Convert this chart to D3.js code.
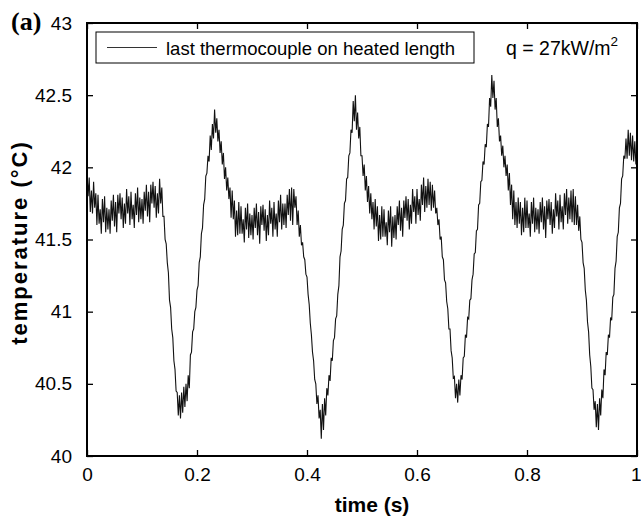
<!DOCTYPE html>
<html>
<head>
<meta charset="utf-8">
<script src="https://cdn.jsdelivr.net/npm/d3@7"></script>
<style>
    body { margin: 0; background: #fff; }
    svg { display: block; }
</style>
</head>
<body>
<svg id="chart"></svg>
<script>
'use strict'

// samples are taken every 2 ms (deg C)
const SAMPLE_PERIOD = 0.002

const temperature = [
    41.96, 41.80, 41.93, 41.69, 41.84, 41.68, 41.90, 41.72, 41.82, 41.60,
    41.81, 41.61, 41.71, 41.54, 41.78, 41.62, 41.80, 41.55, 41.72, 41.57,
    41.71, 41.54, 41.77, 41.63, 41.81, 41.59, 41.76, 41.55, 41.81, 41.68,
    41.82, 41.64, 41.79, 41.58, 41.75, 41.61, 41.85, 41.68, 41.80, 41.60,
    41.83, 41.64, 41.74, 41.58, 41.82, 41.67, 41.86, 41.62, 41.79, 41.64,
    41.78, 41.61, 41.83, 41.70, 41.88, 41.66, 41.83, 41.62, 41.88, 41.75,
    41.90, 41.72, 41.87, 41.65, 41.82, 41.68, 41.92, 41.75, 41.86, 41.66,
    41.66, 41.50, 41.47, 41.34, 41.27, 41.08, 41.03, 40.88, 40.82, 40.66,
    40.60, 40.45, 40.44, 40.28, 40.42, 40.26, 40.44, 40.30, 40.48, 40.34,
    40.50, 40.38, 40.56, 40.47, 40.70, 40.72, 40.86, 40.88, 41.00, 41.03,
    41.15, 41.18, 41.34, 41.38, 41.54, 41.58, 41.74, 41.78, 41.94, 41.96,
    42.08, 42.04, 42.22, 42.12, 42.30, 42.20, 42.40, 42.24, 42.34, 42.18,
    42.26, 42.10, 42.18, 42.02, 42.10, 41.92, 42.00, 41.84, 41.93, 41.78,
    41.86, 41.65, 41.84, 41.64, 41.77, 41.52, 41.70, 41.53, 41.76, 41.54,
    41.73, 41.54, 41.64, 41.48, 41.72, 41.57, 41.75, 41.51, 41.68, 41.53,
    41.67, 41.50, 41.72, 41.58, 41.75, 41.53, 41.69, 41.47, 41.73, 41.60,
    41.74, 41.56, 41.71, 41.49, 41.67, 41.53, 41.77, 41.61, 41.72, 41.52,
    41.76, 41.57, 41.68, 41.52, 41.77, 41.62, 41.81, 41.57, 41.75, 41.60,
    41.75, 41.58, 41.81, 41.67, 41.85, 41.63, 41.86, 41.60, 41.85, 41.72,
    41.80, 41.60, 41.70, 41.52, 41.60, 41.46, 41.48, 41.38, 41.36, 41.26,
    41.24, 41.12, 41.05, 40.92, 40.84, 40.72, 40.66, 40.53, 40.50, 40.36,
    40.42, 40.26, 40.32, 40.12, 40.36, 40.18, 40.40, 40.28, 40.47, 40.42,
    40.56, 40.52, 40.68, 40.66, 40.80, 40.82, 40.95, 40.97, 41.12, 41.18,
    41.38, 41.42, 41.57, 41.60, 41.75, 41.77, 41.92, 41.93, 42.08, 42.10,
    42.26, 42.24, 42.46, 42.32, 42.50, 42.26, 42.38, 42.20, 42.28, 42.08,
    42.08, 41.94, 42.02, 41.84, 41.94, 41.76, 41.87, 41.68, 41.82, 41.64,
    41.76, 41.57, 41.78, 41.59, 41.73, 41.49, 41.67, 41.50, 41.73, 41.52,
    41.71, 41.52, 41.62, 41.46, 41.70, 41.55, 41.73, 41.45, 41.66, 41.51,
    41.67, 41.50, 41.73, 41.60, 41.77, 41.56, 41.72, 41.52, 41.77, 41.65,
    41.80, 41.63, 41.78, 41.57, 41.74, 41.61, 41.85, 41.69, 41.80, 41.61,
    41.85, 41.67, 41.78, 41.63, 41.88, 41.74, 41.93, 41.69, 41.87, 41.72,
    41.92, 41.74, 41.90, 41.70, 41.88, 41.72, 41.84, 41.68, 41.72, 41.60,
    41.64, 41.50, 41.52, 41.38, 41.36, 41.22, 41.20, 41.07, 41.02, 40.88,
    40.88, 40.73, 40.68, 40.54, 40.55, 40.40, 40.50, 40.37, 40.53, 40.42,
    40.56, 40.53, 40.68, 40.69, 40.84, 40.82, 40.96, 40.95, 41.08, 41.09,
    41.22, 41.26, 41.40, 41.41, 41.56, 41.57, 41.74, 41.75, 41.90, 41.91,
    42.04, 42.02, 42.16, 42.14, 42.30, 42.28, 42.48, 42.42, 42.64, 42.48,
    42.60, 42.40, 42.48, 42.28, 42.34, 42.18, 42.22, 42.08, 42.15, 42.00,
    42.08, 41.94, 42.02, 41.84, 41.96, 41.74, 41.88, 41.64, 41.84, 41.60,
    41.76, 41.58, 41.79, 41.61, 41.76, 41.53, 41.72, 41.55, 41.79, 41.58,
    41.77, 41.58, 41.68, 41.52, 41.76, 41.61, 41.79, 41.55, 41.72, 41.57,
    41.71, 41.54, 41.76, 41.62, 41.79, 41.57, 41.73, 41.51, 41.77, 41.64,
    41.78, 41.60, 41.76, 41.54, 41.71, 41.58, 41.82, 41.66, 41.77, 41.57,
    41.81, 41.62, 41.73, 41.57, 41.82, 41.67, 41.85, 41.61, 41.79, 41.64,
    41.84, 41.62, 41.85, 41.60, 41.80, 41.60, 41.74, 41.56, 41.66, 41.50,
    41.48, 41.34, 41.30, 41.15, 41.08, 40.93, 40.86, 40.70, 40.62, 40.47,
    40.46, 40.32, 40.38, 40.20, 40.36, 40.18, 40.40, 40.28, 40.46, 40.40,
    40.60, 40.56, 40.72, 40.70, 40.84, 40.82, 40.96, 40.94, 41.10, 41.12,
    41.30, 41.35, 41.52, 41.55, 41.72, 41.75, 41.92, 41.94, 42.08, 42.06,
    42.20, 42.06, 42.26, 42.08, 42.24, 42.05, 42.22, 42.04, 42.18, 42.02,
    42.12
]

const xTicks = [0, 0.2, 0.4, 0.6, 0.8, 1]
const xTickLabels = ['0', '0.2', '0.4', '0.6', '0.8', '1']
const yTicks = [40, 40.5, 41, 41.5, 42, 42.5, 43]
const yTickLabels = ['40', '40.5', '41', '41.5', '42', '42.5', '43']

const legendLabel = 'last thermocouple on heated length'

const svgWidth = 641,
    svgHeight = 520

const margin = { top: 23, right: 4, bottom: 64, left: 87 }
const plotW = svgWidth - margin.left - margin.right
const plotH = svgHeight - margin.top - margin.bottom

const tickLen = 6
const fontSans = '"Liberation Sans", Arial, Helvetica, sans-serif'

let svg = d3.select('#chart')
    .attr('width', svgWidth)
    .attr('height', svgHeight)

let x = d3.scaleLinear().domain([0, 1]).range([0, plotW])
let y = d3.scaleLinear().domain([40, 43]).range([plotH, 0])

let g = svg.append('g').attr('transform', 'translate(' + margin.left + ',' + margin.top + ')')

// the signal
let line = d3.line()
    .x((d, i) => x(i * SAMPLE_PERIOD))
    .y(d => y(d))

g.append('path')
    .datum(temperature)
    .attr('fill', 'none')
    .attr('stroke', '#111')
    .attr('stroke-width', 1.1)
    .attr('d', line)

// matlab style box, ticks pointing inward on all four sides
function styleAxis(sel) {
    sel.select('.domain').remove()
    sel.selectAll('.tick line').attr('stroke', '#000').attr('stroke-width', 1.3)
    sel.selectAll('.tick text')
        .attr('fill', '#000')
        .style('font-family', fontSans)
        .style('font-size', '19px')
}

let xBottom = g.append('g')
    .attr('transform', 'translate(0,' + plotH + ')')
    .call(d3.axisBottom(x).tickValues(xTicks).tickSize(-tickLen).tickPadding(12)
        .tickFormat((d, i) => xTickLabels[i]))
styleAxis(xBottom)

// last label sits on the right edge of the page, keep it inside
xBottom.selectAll('.tick text')
    .filter(d => d === 1)
    .attr('text-anchor', 'end')
    .attr('dx', 4)

let xTop = g.append('g')
    .call(d3.axisTop(x).tickValues(xTicks).tickSize(-tickLen).tickFormat(''))
styleAxis(xTop)

let yLeft = g.append('g')
    .call(d3.axisLeft(y).tickValues(yTicks).tickSize(-tickLen).tickPadding(15)
        .tickFormat((d, i) => yTickLabels[i]))
styleAxis(yLeft)

let yRight = g.append('g')
    .attr('transform', 'translate(' + plotW + ',0)')
    .call(d3.axisRight(y).tickValues(yTicks).tickSize(-tickLen).tickFormat(''))
styleAxis(yRight)

g.append('rect')
    .attr('width', plotW)
    .attr('height', plotH)
    .attr('fill', 'none')
    .attr('stroke', '#000')
    .attr('stroke-width', 2)

// legend
let legend = g.append('g').attr('transform', 'translate(9,9)')

legend.append('rect')
    .attr('width', 378)
    .attr('height', 31)
    .attr('fill', '#fff')
    .attr('stroke', '#000')
    .attr('stroke-width', 1)

legend.append('line')
    .attr('x1', 11).attr('x2', 61)
    .attr('y1', 15.5).attr('y2', 15.5)
    .attr('stroke', '#333')
    .attr('stroke-width', 1)

legend.append('text')
    .attr('x', 70)
    .attr('y', 23)
    .style('font-family', fontSans)
    .style('font-size', '18.5px')
    .text(legendLabel)

// heat flux note
let note = g.append('text')
    .attr('x', 419)
    .attr('y', 32)
    .style('font-family', fontSans)
    .style('font-size', '19.5px')
note.append('tspan').text('q = 27kW/m')
note.append('tspan')
    .attr('dy', -9)
    .style('font-size', '13.5px')
    .text('2')

// axis titles
svg.append('text')
    .attr('x', 372)
    .attr('y', 512)
    .attr('text-anchor', 'middle')
    .style('font-family', fontSans)
    .style('font-size', '21px')
    .style('font-weight', 'bold')
    .text('time (s)')

// the exported label is spread out a bit more than the font alone gives
svg.append('text')
    .attr('transform', 'translate(27,' + (margin.top + plotH / 2 + 3) + ') rotate(-90)')
    .attr('text-anchor', 'middle')
    .style('font-family', fontSans)
    .style('font-size', '22px')
    .style('font-weight', 'bold')
    .style('letter-spacing', '2px')
    .text('temperature (\u00B0C)')

// panel letter
svg.append('text')
    .attr('x', 11)
    .attr('y', 30)
    .style('font-family', '"Liberation Serif", "Times New Roman", serif')
    .style('font-size', '26px')
    .style('font-weight', 'bold')
    .text('(a)')
</script>
</body>
</html>
